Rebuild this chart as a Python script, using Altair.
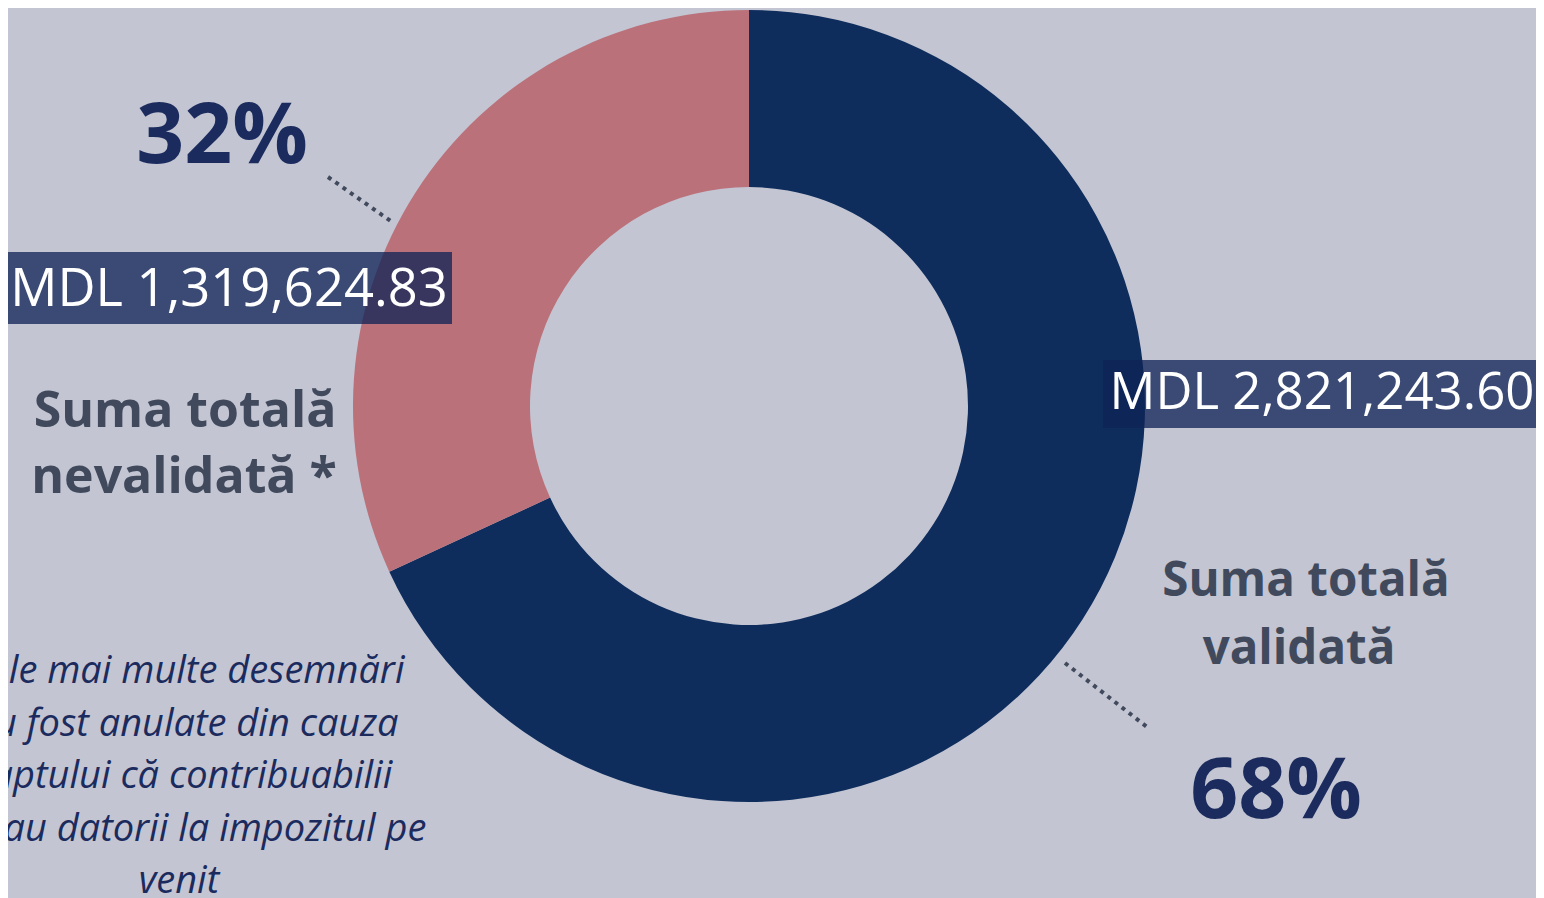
import altair as alt
import pandas as pd

# ---- data ----
categories = ["Suma totală validată", "Suma totală nevalidată *"]
amounts = [2821243.60, 1319624.83]
colors = ["#0e2d5d", "#ba717a"]
footnote_lines = [
    "Cele mai multe desemnări",
    "au fost anulate din cauza",
    "faptului că contribuabilii",
    "aveau datorii la impozitul pe",
    "venit",
]

total = sum(amounts)
pcts = [f"{round(a / total * 100)}%" for a in amounts]
mdl = [f"MDL {a:,.2f}" for a in amounts]

df = pd.DataFrame({"cat": categories, "amount": amounts, "order": [0, 1]})

BG = "#c3c5d2"
NAVY_TXT = "#1b2b5e"
GREY_TXT = "#414a5c"
FONT = "Open Sans"

W, H = 1528, 890

donut = alt.Chart(df).mark_arc(radius=396, radius2=219).encode(
    theta=alt.Theta("amount:Q", stack=True),
    order=alt.Order("order:Q"),
    color=alt.Color("cat:N", scale=alt.Scale(domain=categories, range=colors), legend=None),
    x=alt.value(741),
    y=alt.value(398),
)

one = pd.DataFrame({"a": [0]})


def text(t, x, y, size, weight="normal", color=GREY_TXT, style="normal", align="center"):
    return alt.Chart(one).mark_text(
        text=t, font=FONT, fontSize=size, fontWeight=weight, color=color,
        fontStyle=style, align=align, baseline="middle",
    ).encode(x=alt.value(x), y=alt.value(y))


def rule(x1, y1, x2, y2):
    return alt.Chart(one).mark_rule(
        color=GREY_TXT, strokeWidth=4, strokeDash=[4, 5]
    ).encode(x=alt.value(x1), x2=alt.value(x2), y=alt.value(y1), y2=alt.value(y2))


def box(x1, y1, x2, y2):
    return alt.Chart(one).mark_rect(color="#0e2357", opacity=0.76).encode(
        x=alt.value(x1), x2=alt.value(x2), y=alt.value(y1), y2=alt.value(y2)
    )


layers = [
    donut,
    rule(320, 169, 384, 214),
    rule(1057, 655, 1139, 719),
    box(-3, 244, 444, 316),
    box(1095, 352, 1540, 420),
    text(mdl[1], 221, 282, 52.5, color="white"),
    text(mdl[0], 1314, 386, 51, color="white"),
    text(pcts[1], 214, 130, 84, weight="bold", color=NAVY_TXT),
    text(pcts[0], 1268, 785, 84, weight="bold", color=NAVY_TXT),
    text("Suma totală", 177, 404, 50, weight="bold"),
    text("nevalidată *", 176, 470, 50, weight="bold"),
    text("Suma totală", 1298, 574, 47.5, weight="bold"),
    text("validată", 1291, 642, 47.5, weight="bold"),
]

for i, line in enumerate(footnote_lines):
    x = 171 if i == len(footnote_lines) - 1 else 178
    layers.append(text(line, x, 664 + i * 52.5, 38, color=NAVY_TXT, style="italic"))

chart = alt.layer(*layers).properties(
    width=W, height=H, background=BG, padding=0, autosize=alt.AutoSizeParams(type="none")
).configure_view(stroke=None)

chart.save("out.html", embed_options={"renderer": "svg", "actions": False})
